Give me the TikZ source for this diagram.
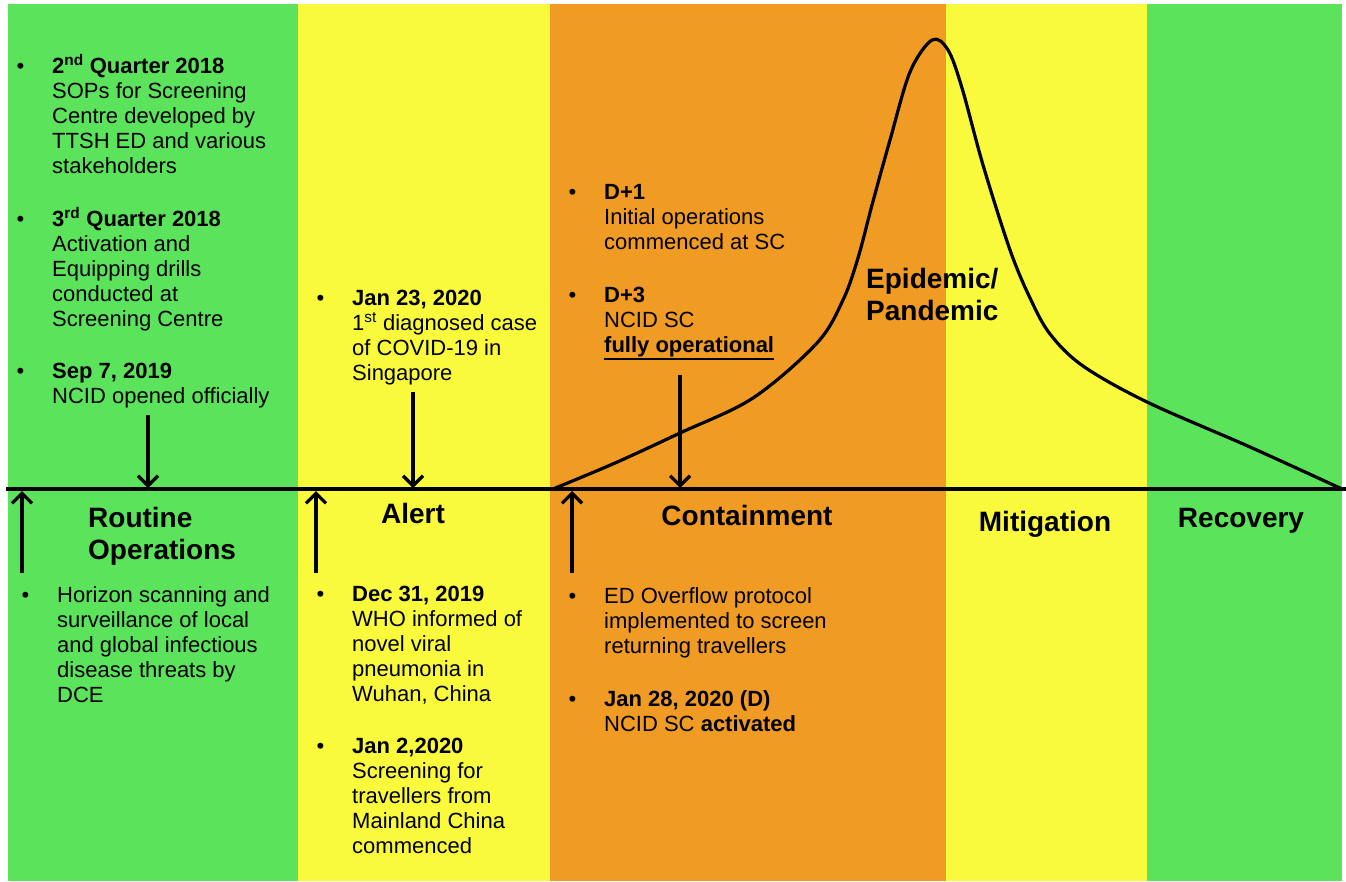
\documentclass[tikz,border=0pt]{standalone}
\usepackage{fontspec}
\setmainfont{Liberation Sans}
\usetikzlibrary{arrows.meta}
\definecolor{bgreen}{RGB}{92,227,92}
\definecolor{byellow}{RGB}{250,250,60}
\definecolor{borange}{RGB}{240,155,35}
\newcommand\ft{\rule{0pt}{21pt}}
\newcommand\bul{\makebox[0pt][r]{\makebox[35.5pt][l]{•}}}
\begin{document}
\begin{tikzpicture}[x=1pt,y=-1pt,
  body/.style={anchor=north west, align=left, inner sep=0pt, font=\fontsize{22}{25}\selectfont},
  phase/.style={anchor=base, inner sep=0pt, font=\fontsize{28}{31.5}\selectfont\bfseries},
  evarrow/.style={line width=3.2pt, -{Straight Barb[length=10pt,width=20pt]}}]
\useasboundingbox (0,0) rectangle (1346,881);
\fill[white] (0,0) rectangle (1346,881);
% bands
\fill[bgreen] (8,4) rectangle (298,881);
\fill[byellow] (298,4) rectangle (550,881);
\fill[borange] (550,4) rectangle (946,881);
\fill[byellow] (946,4) rectangle (1147,881);
\fill[bgreen] (1147,4) rectangle (1342,881);
% curve
\draw[line width=3.2pt, line join=round] plot[smooth, tension=0.55] coordinates {
 (553,489) (615,463) (680,433) (753,398) (817,343) (843,300) (858,258) (872,205)
 (890,140) (910,72) (932,40) (948,50) (962,88) (983,165) (1010,250) (1030,298)
 (1050,334) (1083,366) (1147,402) (1250,447) (1342,489)};
% axis
\coordinate (axL) at (6,489);
\coordinate (axR) at (1346,489);
\draw[line width=4pt] (axL) -- (axR);
% texts
\node[body] (tA) at (52,52) {\ft\bul\textbf{2\textsuperscript{nd} Quarter 2018}\\
SOPs for Screening\\ Centre developed by\\ TTSH ED and various\\ stakeholders\\[28pt]
\bul\textbf{3\textsuperscript{rd} Quarter 2018}\\ Activation and\\ Equipping drills\\ conducted at\\ Screening Centre\\[27pt]
\bul\textbf{Sep 7, 2019}\\ NCID opened officially};
\node[body] (tB) at (352,284) {\ft\bul\textbf{Jan 23, 2020}\\
1\textsuperscript{st} diagnosed case\\ of COVID-19 in\\ Singapore};
\node[body] (tC) at (604,178) {\ft\bul\textbf{D+1}\\ Initial operations\\ commenced at SC\\[28pt]
\bul\textbf{D+3}\\ NCID SC\\ \textbf{fully operational}};
\draw[line width=2.2pt] (604,359) -- (774,359);
\node[body] (tD) at (57,581) {\ft\bul Horizon scanning and\\ surveillance of local\\ and global infectious\\ disease threats by\\ DCE};
\node[body] (tE) at (352,580) {\ft\bul\textbf{Dec 31, 2019}\\ WHO informed of\\ novel viral\\ pneumonia in\\ Wuhan, China\\[27pt]
\bul\textbf{Jan 2,2020}\\ Screening for\\ travellers from\\ Mainland China\\ commenced};
\node[body] (tF) at (604,582) {\ft\bul ED Overflow protocol\\ implemented to screen\\ returning travellers\\[28pt]
\bul\textbf{Jan 28, 2020 (D)}\\ NCID SC \textbf{activated}};
% phase labels
\node[phase, anchor=base west, align=left] (pR) at (88,559) {Routine\\Operations};
\node[phase] (pA) at (413,523) {Alert};
\node[phase] (pC) at (747,525) {Containment};
\node[phase] (pM) at (1045,531) {Mitigation};
\node[phase] (pRe) at (1241,527) {Recovery};
\node[phase, anchor=base west, align=left] (pE) at (866,320) {Epidemic/\\Pandemic};
% arrows
\coordinate (d1s) at (148,415); \coordinate (d1e) at (148,488);
\coordinate (d2s) at (413,392); \coordinate (d2e) at (413,488);
\coordinate (d3s) at (680,375); \coordinate (d3e) at (680,488);
\coordinate (u1s) at (22,573); \coordinate (u1e) at (22,491);
\coordinate (u2s) at (316,573); \coordinate (u2e) at (316,491);
\coordinate (u3s) at (572,573); \coordinate (u3e) at (572,491);
\draw[evarrow] (d1s) -- (d1e);
\draw[evarrow] (d2s) -- (d2e);
\draw[evarrow] (d3s) -- (d3e);
\draw[evarrow] (u1s) -- (u1e);
\draw[evarrow] (u2s) -- (u2e);
\draw[evarrow] (u3s) -- (u3e);
\end{tikzpicture}
\end{document}
